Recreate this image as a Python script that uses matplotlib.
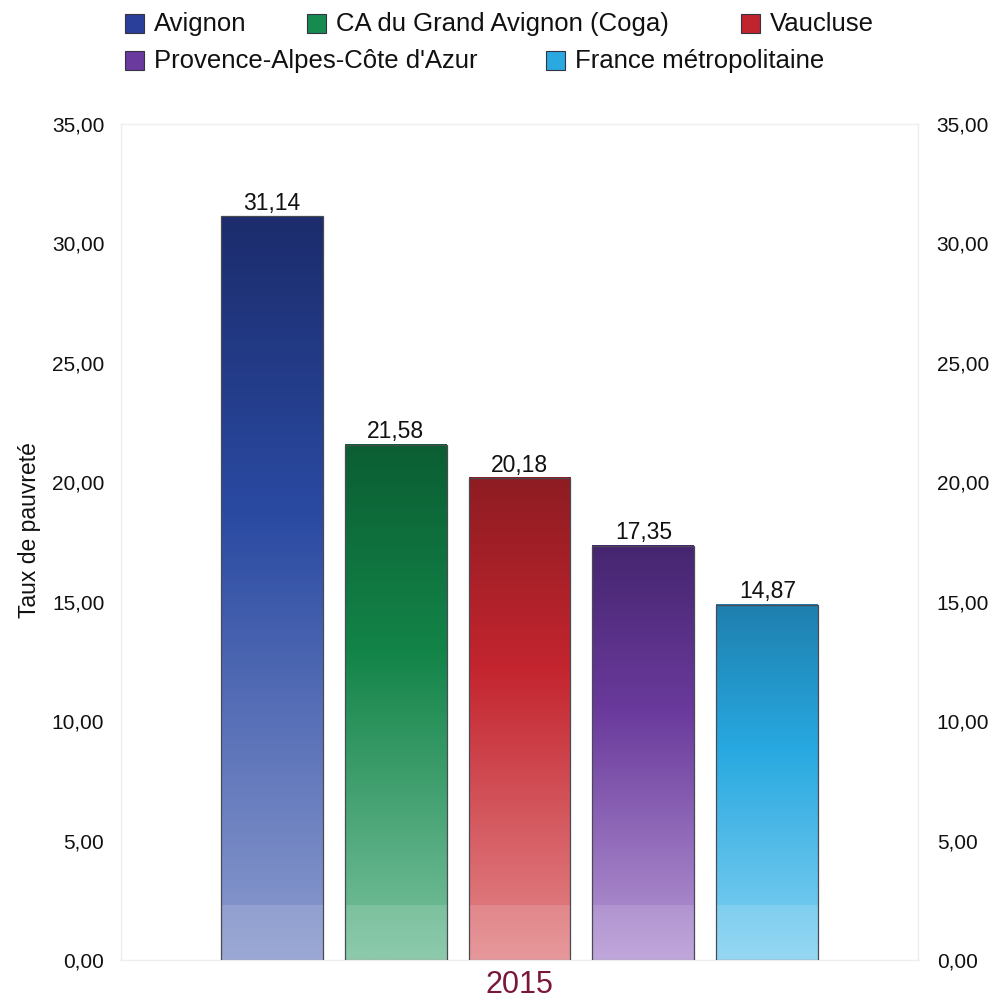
import numpy as np
import matplotlib
matplotlib.use("Agg")
import matplotlib.pyplot as plt
from matplotlib.patches import Rectangle

plt.rcParams["font.family"] = ["Liberation Sans", "DejaVu Sans"]

# Data
categories = ["Avignon", "CA du Grand Avignon (Coga)", "Vaucluse",
              "Provence-Alpes-Côte d'Azur", "France métropolitaine"]
values = [31.14, 21.58, 20.18, 17.35, 14.87]
year_label = "2015"
y_ticks = [0, 5, 10, 15, 20, 25, 30, 35]

# colours: legend swatch, bar top, bar middle, bar bottom
legend_colors = ["#2a3f99", "#178a4f", "#c0252f", "#6a3a9e", "#2aa8e0"]
top_colors = ["#1c2c6c", "#0b5e33", "#8e1c22", "#462670", "#1f7fae"]
mid_colors = ["#2a4aa2", "#138448", "#c4252f", "#6a3a9c", "#27a8e0"]
low_colors = ["#8d9ccf", "#7cc3a0", "#e3898c", "#b79ad6", "#86d2f2"]


def hex_rgb(h):
    h = h.lstrip("#")
    return np.array([int(h[i:i + 2], 16) / 255 for i in (0, 2, 4)])


def gradient(top, mid, low, n=200):
    t = np.linspace(0, 1, n)[:, None]
    a, b, c = hex_rgb(top), hex_rgb(mid), hex_rgb(low)
    split = 0.4
    g = np.where(t < split,
                 a + (b - a) * (t / split),
                 b + (c - b) * ((t - split) / (1 - split)))
    return g[:, None, :]


W, H = 995, 1000
fig = plt.figure(figsize=(W / 100, H / 100), dpi=100)
ax = fig.add_axes([121 / W, 40 / H, 797 / W, 836 / H])

width = 102 / 124
for i, v in enumerate(values):
    img = gradient(top_colors[i], mid_colors[i], low_colors[i])
    ax.imshow(img, extent=[i - width / 2, i + width / 2, 0, v],
              aspect="auto", origin="upper", zorder=2)
    ax.bar(i, v, width, facecolor="none", edgecolor="#4a4a55",
           linewidth=0.9, zorder=4)
    # lighter band at the foot of every bar
    ax.bar(i, 2.3, width, color="white", alpha=0.13, linewidth=0, zorder=3)
    ax.annotate(f"{v:.2f}".replace(".", ","), (i, v), xytext=(0, 1),
                textcoords="offset points", ha="center", va="bottom",
                fontsize=16.5, color="#111111")

ax.set_xlim(2 - 3.214, 2 + 3.214)
ax.set_ylim(0, 35)
ax.set_yticks(y_ticks)
ax.set_yticklabels([f"{t:.2f}".replace(".", ",") for t in y_ticks])
ax.tick_params(axis="y", length=0, pad=12, labelsize=15, labelcolor="#111111")
ax.set_xticks([2])
ax.set_xticklabels([year_label])
ax.tick_params(axis="x", length=0, pad=7, labelsize=22, labelcolor="#7a1838")
for s in ax.spines.values():
    s.set_color("#eeeeee")
    s.set_linewidth(1)

ax2 = ax.twinx()
ax2.set_ylim(0, 35)
ax2.set_yticks(y_ticks)
ax2.set_yticklabels([f"{t:.2f}".replace(".", ",") for t in y_ticks])
ax2.tick_params(axis="y", length=0, pad=13.5, labelsize=15, labelcolor="#111111")
for s in ax2.spines.values():
    s.set_visible(False)

fig.text(30 / W, 1 - 530 / H, "Taux de pauvreté", rotation=90,
         ha="center", va="center", fontsize=16.5, color="#111111")

# legend laid out in two free-flowing rows
legend_pos = [(125, 23), (307, 23), (741, 23), (125, 60), (546, 60)]
for (px, py), name, col in zip(legend_pos, categories, legend_colors):
    fig.patches.append(Rectangle((px / W, 1 - (py + 10) / H), 19 / W, 19 / H,
                                 transform=fig.transFigure, facecolor=col,
                                 edgecolor="#333344", linewidth=0.8))
    fig.text((px + 29) / W, 1 - (py + 1) / H, name, ha="left", va="center",
             fontsize=18.5, color="#111111")

fig.savefig("out.png", dpi=100)
